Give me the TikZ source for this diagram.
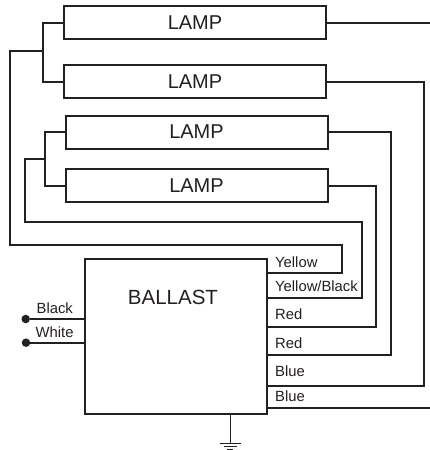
\documentclass[tikz,border=0pt]{standalone}
\usepackage{fontspec}
\setmainfont{Liberation Sans}
\definecolor{WireBlack}{rgb}{0.14, 0.12, 0.13}
\tikzset{
    wire/.style={draw=WireBlack,line width=2pt,line join=miter},
    lampbox/.style={draw=WireBlack,line width=2pt,fill=white,inner sep=0pt,outer sep=0pt,
        minimum width=262pt,minimum height=33pt,text=WireBlack,font=\fontsize{20}{24}\selectfont},
    ballastbox/.style={draw=WireBlack,line width=2pt,inner sep=0pt,outer sep=0pt,
        minimum width=182.5pt,minimum height=155pt},
    wirelabel/.style={anchor=base west,inner sep=0pt,text=WireBlack,font=\fontsize{14.8}{17}\selectfont},
    dot/.style={circle,fill=WireBlack,inner sep=0pt,minimum size=8.5pt}
}

\begin{document}
\begin{tikzpicture}[x=1pt,y=-1pt]
    \useasboundingbox (0,0) rectangle (430,450);

    % lamps
    \node[lampbox] (lampa) at (195,22.5) {LAMP};
    \node[lampbox] (lampb) at (195,81.5) {LAMP};
    \node[lampbox] (lampc) at (196.5,132) {LAMP};
    \node[lampbox] (lampd) at (196.5,185.5) {LAMP};

    % ballast
    \node[ballastbox] (ballast) at (176.2,336.2) {};
    \node[anchor=base,inner sep=0pt,text=WireBlack,font=\fontsize{20.5}{24}\selectfont] (ballastname) at (173,304) {BALLAST};

    % ports on the ballast
    \coordinate (yellow) at (267.5,272.7);
    \coordinate (yellowblack) at (267.5,298);
    \coordinate (redone) at (267.5,326.7);
    \coordinate (redtwo) at (267.5,355);
    \coordinate (blueone) at (267.5,385.7);
    \coordinate (bluetwo) at (267.5,408);
    \coordinate (joinab) at (43,51);
    \coordinate (joincd) at (44.5,159);
    \coordinate (topend) at (430,22.5);
    \coordinate (bottomend) at (430,408);
    \coordinate (gnd) at (230,443.7);

    % left side of the lamps
    \draw[wire] (lampa.west) -| (joinab) |- (lampb.west);
    \draw[wire] (lampc.west) -| (joincd) |- (lampd.west);
    \draw[wire] (joinab) -| (10,245) -| (342,272.7) -- (yellow);
    \draw[wire] (joincd) -| (25,221.5) -| (362,298) -- (yellowblack);

    % right side of the lamps
    \draw[wire] (lampa.east) -- (topend);
    \draw[wire] (lampb.east) -| (423.7,385.7) -- (blueone);
    \draw[wire] (lampc.east) -| (391,355) -- (redtwo);
    \draw[wire] (lampd.east) -| (375.7,326.7) -- (redone);
    \draw[wire] (bluetwo) -- (bottomend);

    % line in
    \node[dot] (blackdot) at (25.7,319) {};
    \node[dot] (whitedot) at (26,342.7) {};
    \coordinate (blackport) at (85,319);
    \coordinate (whiteport) at (85,342.7);
    \draw[wire] (blackdot) -- (blackport);
    \draw[wire] (whitedot) -- (whiteport);

    % ground
    \draw[draw=WireBlack,line width=1pt] (ballast.south -| gnd) -- (gnd);
    \draw[draw=WireBlack,line width=1pt] ([xshift=-10.5pt]gnd) -- ([xshift=10.5pt]gnd);
    \draw[draw=WireBlack,line width=1pt] ([xshift=-6.5pt,yshift=-2.7pt]gnd) -- ([xshift=6.5pt,yshift=-2.7pt]gnd);
    \draw[draw=WireBlack,line width=1pt] ([xshift=-3pt,yshift=-5.3pt]gnd) -- ([xshift=3pt,yshift=-5.3pt]gnd);

    % labels
    \node[wirelabel] (yellowname) at (275,267.7) {Yellow};
    \node[wirelabel] (yellowblackname) at (275,291) {Yellow/Black};
    \node[wirelabel] (redonename) at (275,319.3) {Red};
    \node[wirelabel] (redtwoname) at (275,348) {Red};
    \node[wirelabel] (bluename) at (275,376) {Blue};
    \node[wirelabel] (bluetwoname) at (275,401.7) {Blue};
    \node[wirelabel] (blackname) at (36.5,313.7) {Black};
    \node[wirelabel] (whitename) at (35.5,337.7) {White};
\end{tikzpicture}
\end{document}
